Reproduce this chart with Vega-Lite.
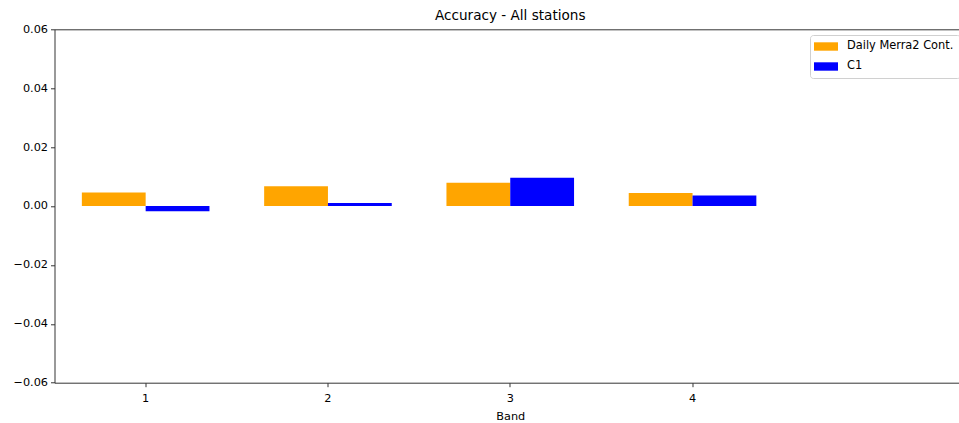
{
  "$schema": "https://vega.github.io/schema/vega-lite/v6.json",
  "autosize": {"type": "none"},
  "padding": {"left": 54.5, "top": 29.3, "right": 0, "bottom": 40},
  "width": 904.5,
  "height": 353.4,
  "title": {
    "text": "Accuracy - All stations",
    "font": "DejaVu Sans",
    "fontSize": 13.6,
    "fontWeight": "normal",
    "color": "#000",
    "baseline": "alphabetic",
    "frame": "group",
    "dx": 3.5,
    "offset": -10.7
  },
  "data": {
    "values": [
      {"band": 1, "series": "Daily Merra2 Cont.", "accuracy": 0.0046},
      {"band": 1, "series": "C1", "accuracy": -0.0018},
      {"band": 2, "series": "Daily Merra2 Cont.", "accuracy": 0.0067},
      {"band": 2, "series": "C1", "accuracy": 0.0010},
      {"band": 3, "series": "Daily Merra2 Cont.", "accuracy": 0.0079},
      {"band": 3, "series": "C1", "accuracy": 0.0096},
      {"band": 4, "series": "Daily Merra2 Cont.", "accuracy": 0.0044},
      {"band": 4, "series": "C1", "accuracy": 0.0036}
    ]
  },
  "layer": [
    {
      "mark": {"type": "bar"},
      "encoding": {
        "x": {
          "field": "band",
          "type": "ordinal",
          "title": "Band",
          "scale": {"domain": [1, 2, 3, 4, 5], "range": [0, 911.5], "paddingInner": 0.3, "paddingOuter": 0.15},
          "axis": {"values": [1, 2, 3, 4], "labelAngle": 0, "labelPadding": 5.5, "titlePadding": 7.5}
        },
        "xOffset": {
          "field": "series",
          "type": "nominal",
          "scale": {"domain": ["Daily Merra2 Cont.", "C1"], "paddingInner": 0, "paddingOuter": 0}
        },
        "y": {
          "field": "accuracy",
          "type": "quantitative",
          "title": null,
          "scale": {"domain": [-0.06, 0.06], "nice": false, "zero": false},
          "axis": {"values": [-0.06, -0.04, -0.02, 0, 0.02, 0.04, 0.06], "format": ".2f", "grid": false}
        },
        "color": {
          "field": "series",
          "type": "nominal",
          "scale": {"domain": ["Daily Merra2 Cont.", "C1"], "range": ["#ffa500", "#0000ff"]},
          "legend": {
            "title": null,
            "orient": "none",
            "legendX": 755.5,
            "legendY": 5.7,
            "symbolType": "M-2,-0.7H2V0.7H-2Z",
            "symbolSize": 144,
            "symbolOffset": 4.5,
            "symbolStrokeWidth": 0,
            "labelFont": "DejaVu Sans",
            "labelFontSize": 11.4,
            "labelColor": "#000",
            "labelOffset": 15,
            "rowPadding": 8,
            "padding": 5.5,
            "fillColor": "#ffffff",
            "strokeColor": "#d0d0d0",
            "cornerRadius": 3
          }
        }
      }
    },
    {
      "mark": {"type": "tick", "opacity": 0},
      "encoding": {
        "x": {
          "field": "band",
          "type": "ordinal",
          "axis": {"orient": "top", "labels": false, "ticks": false, "title": null, "domain": true, "minExtent": 0, "maxExtent": 0}
        }
      }
    }
  ],
  "resolve": {"axis": {"x": "independent"}},
  "config": {
    "view": {"stroke": null},
    "axis": {
      "labelFont": "DejaVu Sans",
      "labelFontSize": 11.3,
      "labelColor": "#000",
      "titleFont": "DejaVu Sans",
      "titleFontSize": 11.3,
      "titleFontWeight": "normal",
      "titleColor": "#000",
      "domainColor": "#333333",
      "tickColor": "#333333",
      "tickSize": 4,
      "labelPadding": 3
    }
  }
}
